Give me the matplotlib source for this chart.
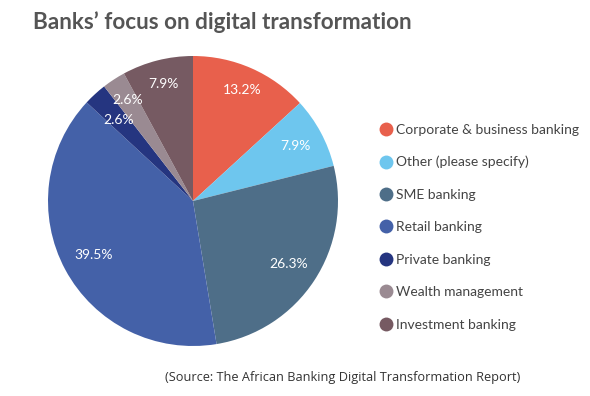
import numpy as np
import matplotlib
matplotlib.use("Agg")
import matplotlib.pyplot as plt
from matplotlib.lines import Line2D

# data
labels = ["Corporate & business banking", "Other (please specify)", "SME banking",
          "Retail banking", "Private banking", "Wealth management", "Investment banking"]
shares = [13.2, 7.9, 26.3, 39.5, 2.6, 2.6, 7.9]
colors = ["#E8604C", "#6EC6EE", "#4E6E88", "#4461A8", "#253580", "#9A8A92", "#765A62"]
# per-slice label distance from centre (fraction of radius)
label_dist = [0.84, 0.80, 0.79, 0.78, 0.76, 0.83, 0.83]

fig = plt.figure(figsize=(5.9, 3.96), dpi=100)
fig.patch.set_facecolor("white")

ax = fig.add_axes([48 / 590, 50 / 396, 290 / 590, 290 / 396])
wedges, _ = ax.pie(shares, colors=colors, startangle=90, counterclock=False,
                   radius=1.0, wedgeprops=dict(linewidth=0))
ax.set_xlim(-1, 1)
ax.set_ylim(-1, 1)
ax.set_aspect("equal")
ax.axis("off")

for w, v, d in zip(wedges, shares, label_dist):
    ang = np.deg2rad((w.theta1 + w.theta2) / 2)
    ax.text(d * np.cos(ang), d * np.sin(ang), f"{v}%", color="white",
            ha="center", va="center", fontsize=10, family="Lato")

handles = [Line2D([], [], marker="o", linestyle="", markersize=10,
                  markerfacecolor=c, markeredgewidth=0) for c in colors]
leg = fig.legend(handles, labels, loc="upper left", bbox_to_anchor=(365 / 590, 1 - 111 / 396),
                 frameon=False, handletextpad=0.1, labelspacing=1.47, handlelength=1.2,
                 prop=dict(family="Lato", size=10), labelcolor="#444444")

fig.text(33 / 590, 1 - 22 / 396, "Banks\u2019 focus on digital transformation",
         fontsize=16.2, fontweight="bold", color="#555555", family="Lato",
         ha="left", va="center")
fig.text(165 / 590, 1 - 378 / 396,
         "(Source: The African Banking Digital Transformation Report)",
         fontsize=9.2, color="#333333", family="Open Sans", ha="left", va="center")

fig.savefig("out.png", dpi=100)
